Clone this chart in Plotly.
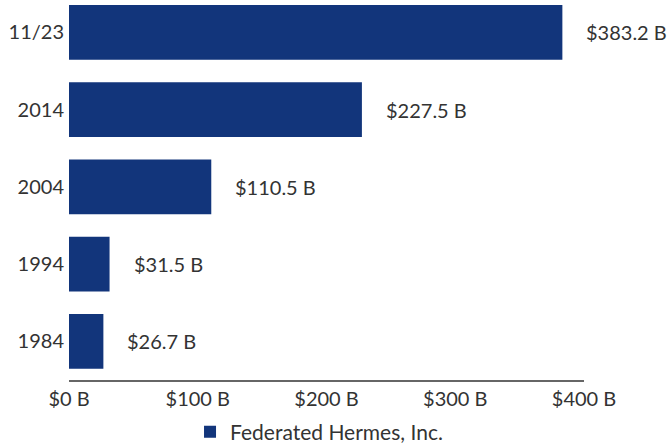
import plotly.graph_objects as go

categories = ["1984", "1994", "2004", "2014", "11/23"]
values = [26.7, 31.5, 110.5, 227.5, 383.2]
value_labels = ["$26.7 B", "$31.5 B", "$110.5 B", "$227.5 B", "$383.2 B"]
tick_vals = [0, 100, 200, 300, 400]
tick_text = ["$0 B", "$100 B", "$200 B", "$300 B", "$400 B"]

BAR = "#12357b"
TXT = "#333333"
FONT = "Lato, 'Noto Sans', sans-serif"

fig = go.Figure()
fig.add_trace(go.Bar(
    y=categories, x=values, orientation="h",
    marker=dict(color=BAR, line=dict(width=0)),
    width=0.71, name="Federated Hermes, Inc.",
    hoverinfo="skip",
))
for i, (v, t) in enumerate(zip(values, value_labels)):
    fig.add_annotation(x=v, y=i, xref="x", yref="y", text=t, showarrow=False,
                       xanchor="left", xshift=22,
                       font=dict(size=20, color=TXT, family=FONT))

fig.update_layout(
    width=670, height=445,
    margin=dict(l=69, r=86, t=0, b=65, autoexpand=False),
    paper_bgcolor="white", plot_bgcolor="white",
    font=dict(family=FONT, size=20, color=TXT),
    showlegend=True,
    legend=dict(orientation="h", x=0.235, xanchor="left", y=-0.137, yanchor="middle",
                font=dict(size=21, color=TXT), itemwidth=30),
    xaxis=dict(range=[0, 400], tickvals=tick_vals, ticktext=tick_text, automargin=False,
               showgrid=False, zeroline=False, showline=True, linecolor="#666666",
               linewidth=1.5, ticks="", tickfont=dict(size=20, color=TXT), fixedrange=True),
    yaxis=dict(type="category", categoryorder="array", categoryarray=categories,
               range=[-0.5, 4.42], automargin=False, ticklabelstandoff=4,
               showgrid=False, zeroline=False, showline=False, ticks="",
               tickfont=dict(size=20, color=TXT), fixedrange=True),
)

fig.write_html("out.html", config={"displayModeBar": False},
               post_script="document.body.style.margin='0';document.body.style.overflow='hidden';")
